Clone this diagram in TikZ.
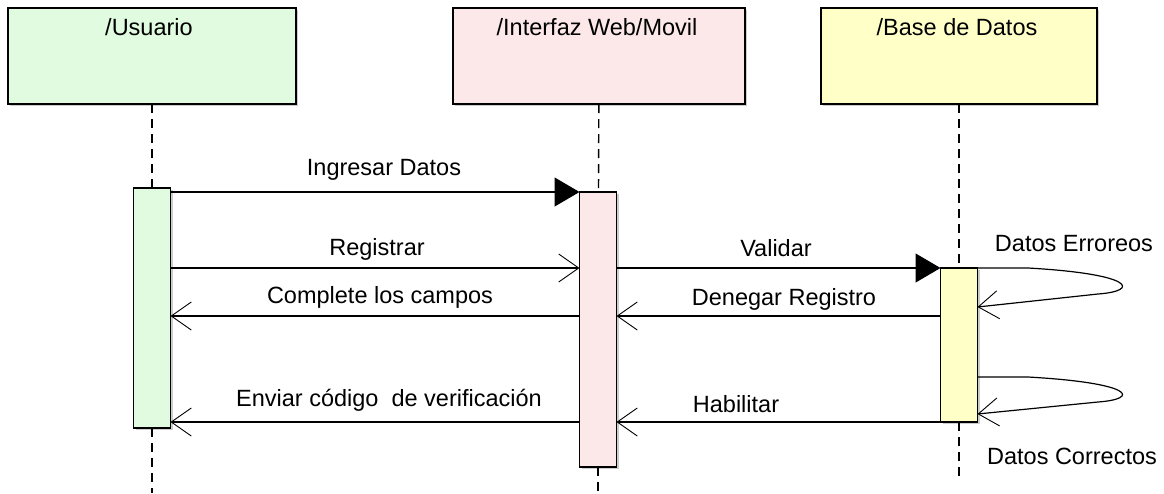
\documentclass[tikz,border=0pt]{standalone}
\usepackage{fontspec}
\setmainfont{Liberation Sans}
\usetikzlibrary{arrows.meta}
\usetikzlibrary{positioning}
\usetikzlibrary{calc}
\usetikzlibrary{shadows}
\definecolor{myusergreen}{RGB}{224,251,224}
\definecolor{myuipink}{RGB}{252,232,232}
\definecolor{mydbyellow}{RGB}{255,255,200}
\tikzset{
  lifebox/.style args={#1,#2}{shape=rectangle,line width=1.6pt,minimum width=#2,minimum height=96pt,fill=#1,draw=black,drop shadow={shadow xshift=2pt,shadow yshift=-2pt,fill=black,opacity=0.2}},
  actbox/.style args={#1,#2}{shape=rectangle,line width=1.4pt,minimum width=37pt,minimum height=#2,fill=#1,draw=black,drop shadow={shadow xshift=2pt,shadow yshift=-2pt,fill=black,opacity=0.2}},
  lifeline/.style={line width=1.4pt,dash pattern=on 9pt off 6pt},
  syncmsg/.style={line width=1.2pt,-{Triangle[length=25pt,width=29pt]}},
  replymsg/.style={line width=1.2pt,-{Straight Barb[length=20pt,width=28pt,line width=0.9pt]}}
}
\newcommand\umltext[1]{{\fontsize{23.5}{27}\selectfont{#1}}}

\begin{document}
\begin{tikzpicture}[x=1pt, y=-1pt, every node/.style={inner sep=0pt, outer sep=0pt}]
\useasboundingbox (0,0) rectangle (1164,493);
% participants
\node[lifebox={myusergreen,288pt}] (usuario) at (152,56) {};
\node[lifebox={myuipink,292pt}] (interfaz) at (599,56) {};
\node[lifebox={mydbyellow,276pt}] (basedatos) at (959,56) {};
\node[anchor=base] (tUsuario) at (149,35) {\umltext{/Usuario}};
\node[anchor=base] (tInterfaz) at (597,35) {\umltext{/Interfaz Web/Movil}};
\node[anchor=base] (tBase) at (957,35) {\umltext{/Base de Datos}};
% activations
\node[actbox={myusergreen,240pt}] (actU) at (152,308) {};
\node[actbox={myuipink,275pt}] (actI) at (598,329.5) {};
\node[actbox={mydbyellow,154pt}] (actB) at (959,345) {};
\coordinate (endU) at (152,493);
\coordinate (endI) at (598,493);
\coordinate (endB) at (959,476);
\draw[lifeline] (usuario) -- (actU);
\draw[lifeline] (interfaz) -- (actI);
\draw[lifeline] (basedatos) -- (actB);
\draw[lifeline] (actU.south) -- (endU);
\draw[lifeline] (actI.south) -- (endI);
\draw[lifeline] (actB.south) -- (endB);
% messages
\coordinate (deny) at (959,316);
\draw[syncmsg] (actU.east |- actI.north) -- (actI.north west);
\draw[replymsg] (actU.east |- actB.north) -- (actI.west |- actB.north);
\draw[syncmsg] (actI.east |- actB.north) -- (actB.north west);
\draw[replymsg] (actI.west |- deny) -- (actU.east |- deny);
\draw[replymsg] (actB.west |- deny) -- (actI.east |- deny);
\draw[replymsg] (actI.west |- actB.south) -- (actU.east |- actB.south);
\draw[replymsg] (actB.south west) -- (actI.east |- actB.south);
% self calls
\coordinate (errA) at (1028,268);
\coordinate (errB) at (959,307);
\coordinate (okA) at (1028,377);
\coordinate (okB) at (959,414);
\draw[replymsg] (actB.north east) -- (errA) .. controls (1135,274) and (1140,291) .. (1098,294) -- (actB.east |- errB);
\draw[replymsg] (actB.east |- okA) -- (okA) .. controls (1135,383) and (1140,399) .. (1098,402) -- (actB.east |- okB);
% labels
\node[anchor=base] (lIngresar) at (384,175) {\umltext{Ingresar Datos}};
\node[anchor=base] (lRegistrar) at (377,255) {\umltext{Registrar}};
\node[anchor=base] (lComplete) at (380,303) {\umltext{Complete los campos}};
\node[anchor=base] (lEnviar) at (389,406) {\umltext{Enviar código\ \ de verificación}};
\node[anchor=base] (lValidar) at (776,256) {\umltext{Validar}};
\node[anchor=base] (lDenegar) at (784,305) {\umltext{Denegar Registro}};
\node[anchor=base] (lHabilitar) at (736,412) {\umltext{Habilitar}};
\node[anchor=base] (lErroreos) at (1074,251) {\umltext{Datos Erroreos}};
\node[anchor=base] (lCorrectos) at (1072,464) {\umltext{Datos Correctos}};
\end{tikzpicture}
\end{document}
